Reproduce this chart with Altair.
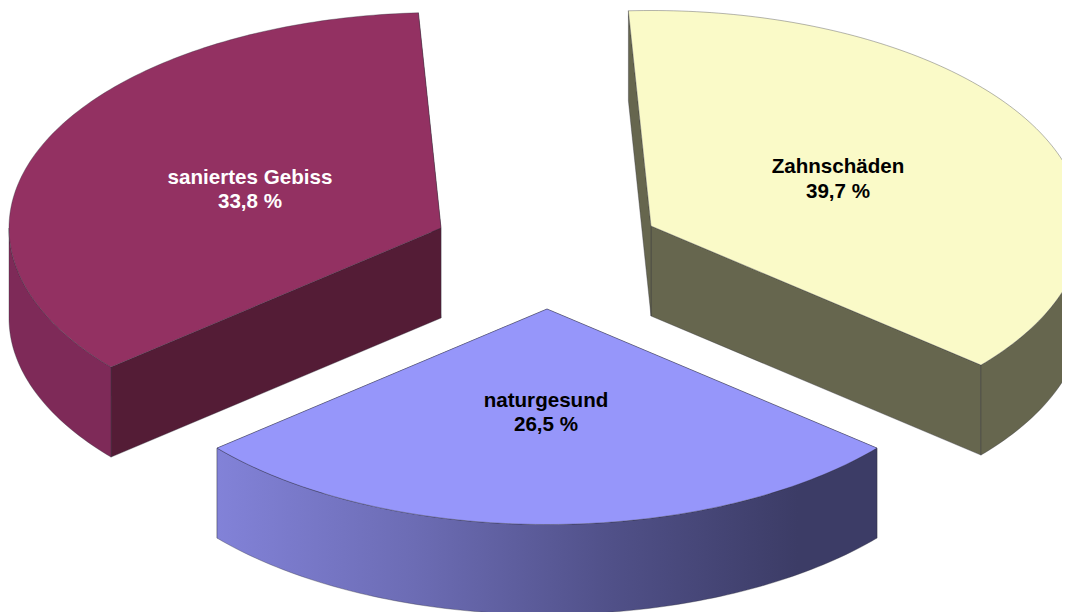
import math
import altair as alt

# ---- content ----
labels = ["Zahnschäden", "naturgesund", "saniertes Gebiss"]
shares = ["39,7 %", "26,5 %", "33,8 %"]
# slice edges as drawn (degrees clockwise from the back of the tilted pie)
edge_start = [-3.0, 130.2, 229.8]
edge_end = [130.2, 229.8, 357.0]

top_colors = ["#fafac8", "#9696fa", "#933162"]
face_colors = ["#66664e", "#3c3c66", "#541c36"]
curve_colors = ["#66664e", None, "#7e2a58"]
text_colors = ["#000000", "#000000", "#ffffff"]
edge_color = "#2e2e3a"

# ---- pie geometry (plot-area pixels) ----
apex_x = [643, 539, 433]
apex_y = [218, 301, 220]
RX, RY, DEPTH = 432, 215.5, 90
label_x = [830, 538, 242]
label_y = [[159, 184], [393, 417], [170, 194]]


def rim(i, deg):
    t = math.radians(deg)
    return [apex_x[i] + RX * math.sin(t), apex_y[i] - RY * math.cos(t)]


def down(p):
    return [p[0], p[1] + DEPTH]


def feature(ring, fill):
    ring = ring + [ring[0]]
    return {
        "type": "Feature",
        "geometry": {"type": "Polygon", "coordinates": [ring]},
        "properties": {"fill": fill},
    }


def arc(i, a, b):
    steps = max(2, int(abs(b - a)))
    return [rim(i, a + (b - a) * k / steps) for k in range(steps + 1)]


sides, gradient_sides, tops = [], [], []
for i in range(3):
    apex = [apex_x[i], apex_y[i]]
    s, e = rim(i, edge_start[i]), rim(i, edge_end[i])
    for p in (e, s):
        sides.append(feature([apex, p, down(p), down(apex)], face_colors[i]))
    a, b = max(edge_start[i], 90), min(edge_end[i], 270)
    curve = arc(i, a, b)
    ring = curve + [down(p) for p in reversed(curve)]
    if curve_colors[i]:
        sides.append(feature(ring, curve_colors[i]))
    else:
        gradient_sides.append(feature(ring, "gradient"))
    tops.append(feature([apex] + arc(i, edge_start[i], edge_end[i]), top_colors[i]))

text_rows = []
for i in range(3):
    for line, y in zip((labels[i], shares[i]), label_y[i]):
        text_rows.append({"t": line, "lon": label_x[i], "lat": y, "c": text_colors[i]})

proj = alt.Projection(type="identity", scale=1, translate=[0, 0])


def shapes(features):
    return (
        alt.Chart(alt.Data(values=features))
        .mark_geoshape(stroke=edge_color, strokeWidth=0.7, strokeOpacity=0.5)
        .encode(fill=alt.Fill("properties.fill:N", scale=None))
        .project(**proj.to_dict())
    )


blue_gradient = alt.LinearGradient(
    gradient="linear",
    x1=0, x2=1, y1=0, y2=0,
    stops=[
        alt.GradientStop(offset=0.0, color="#8282d8"),
        alt.GradientStop(offset=0.3, color="#6c6cb4"),
        alt.GradientStop(offset=0.6, color="#505088"),
        alt.GradientStop(offset=0.88, color="#3c3c66"),
        alt.GradientStop(offset=1.0, color="#3c3c66"),
    ],
)
gradient_layer = (
    alt.Chart(alt.Data(values=gradient_sides))
    .mark_geoshape(fill=blue_gradient, stroke=edge_color, strokeWidth=0.7, strokeOpacity=0.5)
    .project(**proj.to_dict())
)

text_layer = (
    alt.Chart(alt.Data(values=text_rows))
    .mark_text(font="Liberation Sans", fontWeight="bold", fontSize=20.6, baseline="middle", align="center")
    .encode(
        longitude="lon:Q",
        latitude="lat:Q",
        text="t:N",
        color=alt.Color("c:N", scale=None),
    )
    .project(**proj.to_dict())
)

chart = (
    alt.layer(shapes(sides), gradient_layer, shapes(tops), text_layer)
    .properties(width=1054, height=604, padding=0, background="#ffffff")
    .configure_view(stroke=None)
)

chart.save("out.html", embed_options={"renderer": "svg", "actions": False})
